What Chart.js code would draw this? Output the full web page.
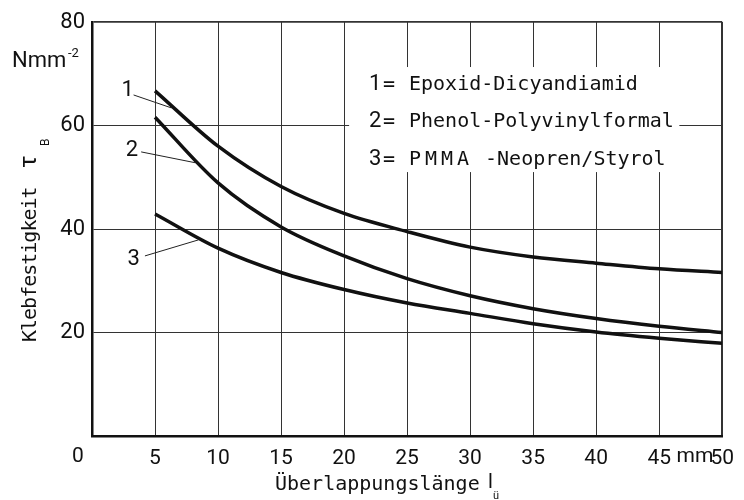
<!DOCTYPE html>
<html>
<head>
<meta charset="utf-8">
<script src="https://cdn.jsdelivr.net/npm/chart.js@4.4.0/dist/chart.umd.min.js"></script>
<style>
  html, body { margin: 0; padding: 0; background: #fff; }
  #wrap { width: 744px; height: 500px; }
</style>
</head>
<body>
<div id="wrap"><canvas id="chart" width="744" height="500"></canvas></div>
<script>
// Überlappungslänge l_ü in mm
const laengen = [5, 10, 15, 20, 25, 30, 35, 40, 45, 50];

// Klebfestigkeit tau_B in N/mm²
const epoxid = [66.7, 56.0, 48.2, 43.0, 39.5, 36.5, 34.6, 33.4, 32.3, 31.6];
const phenol = [61.6, 48.9, 40.4, 34.8, 30.4, 27.1, 24.6, 22.7, 21.2, 20.0];
const pmma   = [42.9, 36.3, 31.6, 28.3, 25.7, 23.7, 21.7, 20.1, 18.9, 17.9];

// Achsen
const xMax = 50, xStep = 5;
const yMax = 80, yStep = 20;

// Kurvennummern + Hinweislinien (in Datenkoordinaten)
const kurvenNr = ["1", "2", "3"];
const nrPos = [[2.84, 66.7], [3.16, 55.1], [3.3, 34.2]];
const linieVon = [[3.3, 65.9], [3.9, 54.9], [4.2, 34.8]];
const linieBis = [[6.3, 63.4], [8.2, 52.8], [8.45, 37.9]];

// Legende
const legendeNr = ["1", "2", "3"];
const legendeText = ["Epoxid-Dicyandiamid", "Phenol-Polyvinylformal", "PMMA"];
const legendeBox = [20.4, 71.3, 46.6, 51.0]; // x1, y1, x2, y2

const SANS = "Roboto, 'Liberation Sans', sans-serif";
const MONO = "'DejaVu Sans Mono', 'Liberation Mono', monospace";

function punkte(werte) {
  return werte.map((v, i) => ({ x: laengen[i], y: v }));
}

function kurve(label, werte) {
  return {
    label: label,
    data: punkte(werte),
    borderColor: "#111",
    borderWidth: 3.5,
    pointRadius: 0,
    fill: false,
    cubicInterpolationMode: "monotone"
  };
}

const beschriftung = {
  id: "beschriftung",
  beforeDatasetsDraw(chart) {
    const { ctx, scales: { x, y } } = chart;
    const l = x.getPixelForValue(legendeBox[0]), r = x.getPixelForValue(legendeBox[2]);
    const t = y.getPixelForValue(legendeBox[1]), b = y.getPixelForValue(legendeBox[3]);
    ctx.save();
    ctx.fillStyle = "#fff";
    ctx.fillRect(l, t, r - l, b - t);
    ctx.restore();
  },
  afterDraw(chart) {
    const { ctx, scales: { x, y } } = chart;
    ctx.save();
    ctx.fillStyle = "#111";
    ctx.strokeStyle = "#222";

    // Kurvennummern mit Hinweislinien
    ctx.lineWidth = 1;
    ctx.font = "22px " + SANS;
    ctx.textAlign = "center";
    ctx.textBaseline = "middle";
    kurvenNr.forEach((nr, i) => {
      ctx.fillText(nr, x.getPixelForValue(nrPos[i][0]), y.getPixelForValue(nrPos[i][1]));
      ctx.beginPath();
      ctx.moveTo(x.getPixelForValue(linieVon[i][0]), y.getPixelForValue(linieVon[i][1]));
      ctx.lineTo(x.getPixelForValue(linieBis[i][0]), y.getPixelForValue(linieBis[i][1]));
      ctx.stroke();
    });

    // Legende
    ctx.textAlign = "left";
    ctx.textBaseline = "alphabetic";
    const zeilen = [90, 127, 165];
    legendeNr.forEach((nr, i) => {
      ctx.font = "22px " + SANS;
      ctx.fillText(nr, 369, zeilen[i]);
      ctx.font = "20px " + MONO;
      ctx.fillText("=", 383, zeilen[i]);
      if (i < 2) {
        ctx.fillText(legendeText[i], 409, zeilen[i]);
      } else {
        ctx.letterSpacing = "4px";
        ctx.fillText(legendeText[i], 409, zeilen[i]);
        ctx.letterSpacing = "0px";
        ctx.fillText(" -Neopren/Styrol", 473, zeilen[i]);
      }
    });

    // Einheit an der y-Achse
    ctx.font = "22px " + SANS;
    ctx.fillText("Nmm", 12, 67);
    ctx.font = "13px " + SANS;
    ctx.fillText("-2", 68, 57);

    // Ursprung und mm an der x-Achse
    ctx.font = "21px " + SANS;
    ctx.textAlign = "center";
    ctx.textBaseline = "middle";
    ctx.fillText("0", 78, 457);
    ctx.fillText("mm", 695, 457);

    // x-Achsentitel
    ctx.textAlign = "left";
    ctx.textBaseline = "alphabetic";
    ctx.font = "20px " + MONO;
    ctx.fillText("Überlappungslänge", 275, 490);
    ctx.font = "20px " + SANS;
    ctx.fillText("l", 488, 488);
    ctx.font = "11px " + SANS;
    ctx.fillText("ü", 493, 499);

    // y-Achsentitel
    ctx.translate(36, 342);
    ctx.rotate(-Math.PI / 2);
    ctx.font = "20px " + MONO;
    ctx.letterSpacing = "-1px";
    ctx.fillText("Klebfestigkeit", 0, 0);
    ctx.letterSpacing = "0px";
    ctx.font = "24px " + SANS;
    ctx.fillText("τ", 174, 0);
    ctx.font = "12px " + SANS;
    ctx.fillText("B", 196, 13);
    ctx.restore();
  }
};

window.addEventListener("DOMContentLoaded", () => {
  const ctx = document.getElementById("chart").getContext("2d");
  new Chart(ctx, {
    type: "line",
    data: {
      datasets: [
        kurve("1 = Epoxid-Dicyandiamid", epoxid),
        kurve("2 = Phenol-Polyvinylformal", phenol),
        kurve("3 = PMMA-Neopren/Styrol", pmma)
      ]
    },
    options: {
      responsive: false,
      animation: false,
      layout: { padding: { left: 0, right: 19, top: 22, bottom: 0 } },
      plugins: {
        legend: { display: false },
        tooltip: { enabled: false }
      },
      scales: {
        x: {
          type: "linear",
          min: 0,
          max: xMax,
          afterFit: s => { s.height = 64; },
          ticks: {
            stepSize: xStep,
            color: "#111",
            padding: 10,
            maxRotation: 0,
            font: { family: SANS, size: 21 },
            callback: v => (v === 0 ? "" : String(v))
          },
          grid: {
            color: "#333",
            lineWidth: c => (c.tick && c.tick.value === xMax ? 2 : 1),
            drawTicks: false
          },
          border: { color: "#111", width: 2.5 }
        },
        y: {
          min: 0,
          max: yMax,
          afterFit: s => { s.width = 92; },
          ticks: {
            stepSize: yStep,
            color: "#111",
            padding: 7,
            font: { family: SANS, size: 22 },
            callback: v => (v === 0 ? "" : String(v))
          },
          grid: {
            color: "#333",
            lineWidth: c => (c.tick && c.tick.value === yMax ? 1.8 : 1),
            drawTicks: false
          },
          border: { color: "#111", width: 2.5 }
        }
      }
    },
    plugins: [beschriftung]
  });
});
</script>
</body>
</html>
